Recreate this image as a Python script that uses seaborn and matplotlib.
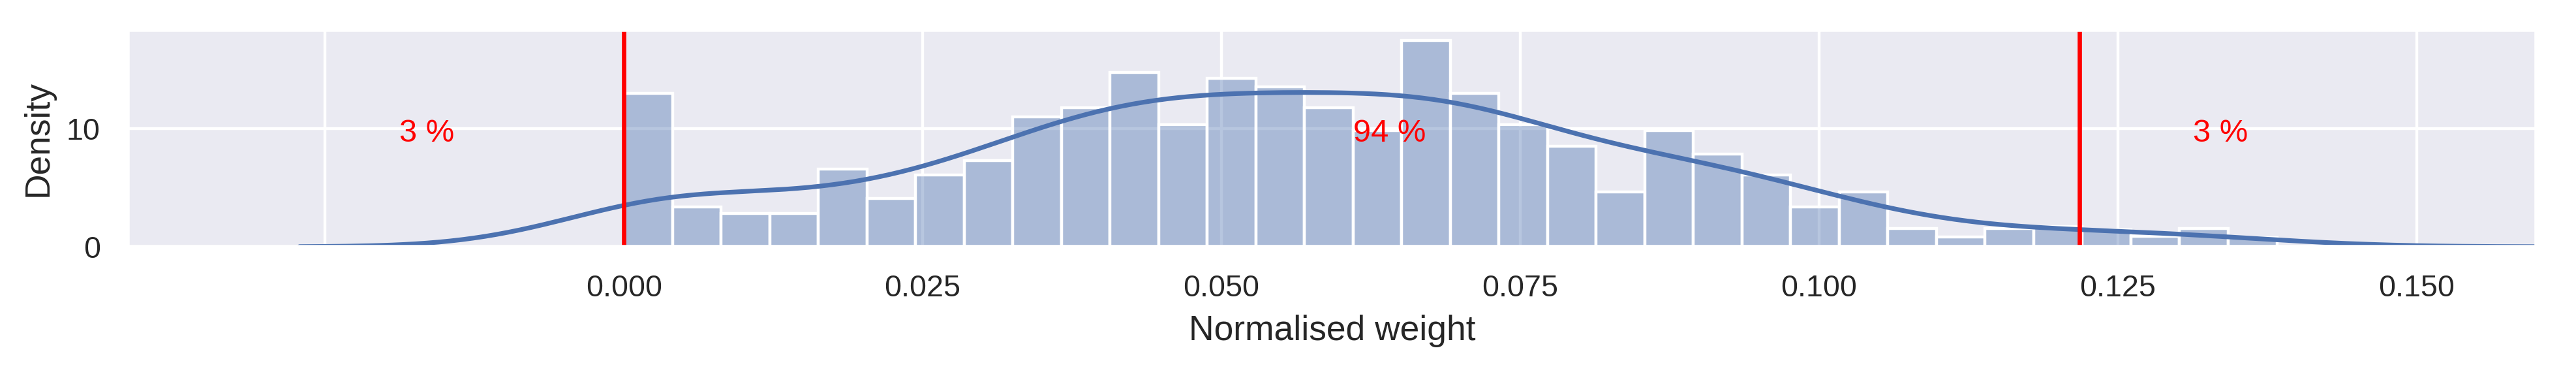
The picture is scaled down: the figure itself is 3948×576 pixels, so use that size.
import numpy as np
import pandas as pd
import seaborn as sns
import matplotlib
matplotlib.use("Agg")
import matplotlib.pyplot as plt

# histogram: 34 equal bins from 0 to ~0.1383
bin_lo, bin_hi, n_bins = 0.0, 0.1383, 34
density = [12.96, 3.39, 2.83, 2.83, 6.57, 4.07, 6.04, 7.26, 11.0, 11.76,
           14.74, 10.3, 14.22, 13.52, 11.76, 9.81, 17.44, 12.96, 10.3, 8.52,
           4.63, 9.81, 7.81, 6.04, 3.37, 4.63, 1.55, 0.84, 1.55, 1.70,
           1.45, 0.88, 1.55, 0.75]

# cut-off lines and the share of weights in each region
cut_points = [0.0, 0.1218]
region_labels = ["3 %", "94 %", "3 %"]
label_x = [-0.0188, 0.0610, 0.1313]
label_y = 8.9

x_ticks = [-0.025, 0.0, 0.025, 0.05, 0.075, 0.1, 0.125, 0.15]
x_ticklabels = ["", "0.000", "0.025", "0.050", "0.075", "0.100", "0.125", "0.150"]

edges = np.linspace(bin_lo, bin_hi, n_bins + 1)
centers = (edges[:-1] + edges[1:]) / 2
df = pd.DataFrame({"weight": centers, "density": density})

sns.set_theme(style="darkgrid")
plt.rcParams["font.family"] = ["Liberation Sans", "DejaVu Sans"]
blue = sns.color_palette()[0]

dpi = 320
fig, ax = plt.subplots(figsize=(3948 / dpi, 576 / dpi), dpi=dpi)
fig.subplots_adjust(left=196 / 3948, right=3887 / 3948,
                    bottom=1 - 378 / 576, top=1 - 46 / 576)

sns.histplot(data=df, x="weight", weights="density", bins=n_bins,
             binrange=(bin_lo, bin_hi), stat="count",
             color=blue, alpha=0.4, edgecolor="white", linewidth=1, ax=ax)
sns.kdeplot(data=df, x="weight", weights="density", bw_method=0.3, cut=2.4,
            color=blue, linewidth=1.6, ax=ax)

for c in cut_points:
    ax.axvline(c, color="red", linewidth=1.5)
for x, lab in zip(label_x, region_labels):
    ax.text(x, label_y, lab, color="red", fontsize=11)

ax.set_xlim(-0.0415, 0.16)
ax.set_xticks(x_ticks)
ax.set_xticklabels(x_ticklabels)
ax.set_yticks([0, 10])
ax.tick_params(labelsize=10.5)
ax.set_xlabel("Normalised weight", fontsize=12)
ax.set_ylabel("Density", fontsize=12)

fig.savefig("out.png", dpi=dpi)
